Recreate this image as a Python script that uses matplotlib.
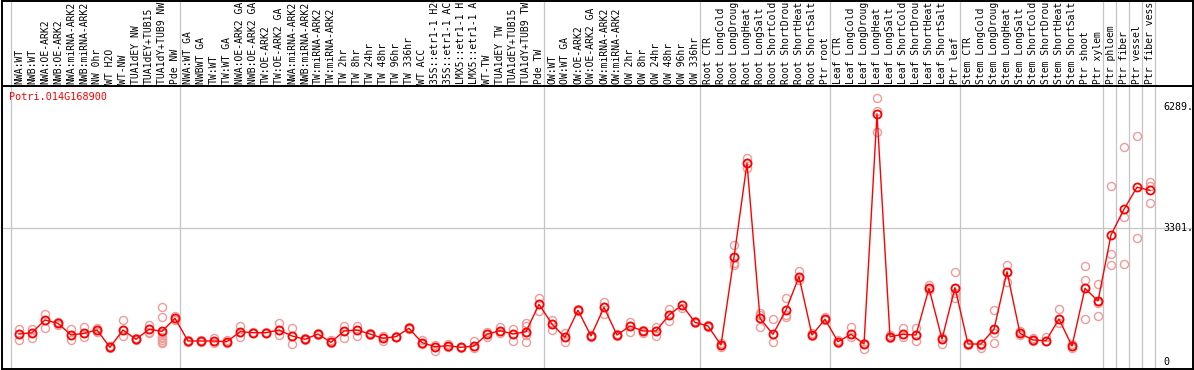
import matplotlib
matplotlib.use("Agg")
import matplotlib.pyplot as plt

gene_id = "Potri.014G168900"

labels = [
    "NWA:WT", "NWB:WT", "NWA:OE-ARK2", "NWB:OE-ARK2", "NWA:miRNA-ARK2", "NWB:miRNA-ARK2",
    "NW 0hr", "WT H2O", "WT-NW", "TUA1dEY NW", "TUA1dEY+TUB15", "TUA1dY+TUB9 NW", "Pde NW",
    "NWA:WT GA", "NWBWT GA", "TW:WT", "TW:WT GA", "NWA:OE-ARK2 GA", "NWB:OE-ARK2 GA",
    "TW:OE-ARK2", "TW:OE-ARK2 GA", "NWA:miRNA-ARK2", "NWB:miRNA-ARK2", "TW:miRNA-ARK2",
    "TW:miRNA-ARK2", "TW 2hr", "TW 8hr", "TW 24hr", "TW 48hr", "TW 96hr", "TW 336hr",
    "WT ACC", "35S::etr1-1 H2O", "35S::etr1-1 ACC", "LMX5::etr1-1 H2O", "LMX5::etr1-1 ACC",
    "WT-TW", "TUA1dEY TW", "TUA1dEY+TUB15", "TUA1dY+TUB9 TW", "Pde TW",
    "OW:WT", "OW:WT GA", "OW:OE-ARK2", "OW:OE-ARK2 GA", "OW:miRNA-ARK2", "OW:miRNA-ARK2",
    "OW 2hr", "OW 8hr", "OW 24hr", "OW 48hr", "OW 96hr", "OW 336hr",
    "Root CTR", "Root LongCold", "Root LongDrought", "Root LongHeat", "Root LongSalt",
    "Root ShortCold", "Root ShortDrought", "Root ShortHeat", "Root ShortSalt", "Ptr root",
    "Leaf CTR", "Leaf LongCold", "Leaf LongDrought", "Leaf LongHeat", "Leaf LongSalt",
    "Leaf ShortCold", "Leaf ShortDrought", "Leaf ShortHeat", "Leaf ShortSalt", "Ptr leaf",
    "Stem CTR", "Stem LongCold", "Stem LongDrought", "Stem LongHeat", "Stem LongSalt",
    "Stem ShortCold", "Stem ShortDrought", "Stem ShortHeat", "Stem ShortSalt",
    "Ptr shoot", "Ptr xylem", "Ptr phloem", "Ptr fiber", "Ptr vessel", "Ptr fiber vessel",
]

means = [
    684, 716, 1030, 948, 659, 701, 783, 355, 783, 553, 800, 750, 1071,
    511, 511, 511, 494, 741, 716, 716, 783, 635, 553, 684, 478, 758, 783, 684, 578, 618, 825,
    470, 371, 395, 355, 387, 676, 766, 684, 741, 1416,
    930, 602, 1270, 635, 1342, 659, 881, 758, 758, 1153, 1400, 972,
    881, 412, 2578, 4899, 1071, 676, 1277, 2099, 659, 1047,
    494, 676, 437, 6122, 617, 676, 659, 1812, 560, 1828,
    437, 437, 800, 2222, 700, 536, 519, 1054, 388,
    1812, 1499, 3128, 3765, 4308, 4231,
]

replicates = [
    [800, 684, 536], [816, 717, 593], [1178, 1030, 840], [980, 948, 906],
    [799, 659, 536], [849, 700, 618], [840, 783, 742], [388, 355, 330],
    [1030, 783, 635], [577, 553, 536], [906, 799, 742, 700],
    [1359, 1096, 700, 618, 577, 536, 495, 454], [1128, 1071, 1030],
    [536, 511, 495], [536, 511, 487], [577, 511, 454], [536, 495, 454],
    [890, 742, 618], [742, 717, 700], [742, 717, 700], [947, 783, 659],
    [824, 635, 429], [577, 552, 536], [717, 684, 659], [536, 478, 454],
    [882, 758, 577], [890, 783, 643], [717, 684, 659], [635, 577, 511],
    [643, 618, 602], [865, 825, 799], [536, 470, 437], [412, 371, 273],
    [429, 396, 371], [371, 355, 330], [519, 388, 330], [742, 676, 618],
    [849, 766, 717], [807, 684, 511], [947, 882, 742, 659, 495],
    [1565, 1416, 1260], [1030, 931, 783], [717, 602, 495], [1301, 1270, 1260],
    [659, 635, 618], [1482, 1342, 1178], [684, 659, 635], [989, 882, 742],
    [783, 758, 700], [865, 758, 635], [1301, 1153, 1013], [1400, 1318],
    [1013, 972, 947], [906, 882, 849], [454, 412, 371],
    [2881, 2578, 2444, 2388], [5022, 4899, 4775], [1211, 1153, 865],
    [1046, 676, 495], [1565, 1153, 1096], [2240, 2099, 2017], [700, 659, 635],
    [1112, 1046, 1030], [536, 495, 454], [849, 676, 618], [454, 437, 305],
    [6504, 6198, 5664], [659, 617, 580], [825, 676, 617], [825, 659, 511],
    [1894, 1812, 1770], [617, 560, 429], [2207, 1828, 1688, 1565],
    [470, 437, 420], [437, 420, 330], [1277, 800, 700, 453], [2388, 2222, 1975],
    [750, 700, 650], [580, 536, 500], [620, 519, 500], [1293, 1054, 948],
    [437, 388, 330], [2363, 2017, 1812, 1054], [1919, 1499, 1441, 1128],
    [4338, 2659, 2388], [5294, 3580, 2420], [5573, 3043], [4444, 4338, 3911],
]

group_ends = [-1, 12, 40, 52, 62, 72, 83, 84, 85, 86, 87]
ytick_values = [6289, 3301, 0]
ytick_labels = ["6289.", "3301.", "0"]

W, H = 1194, 370
fig = plt.figure(figsize=(W / 100, H / 100), dpi=100)
fig.patch.set_facecolor("white")

x0, x1 = 1.5, 1192.5
ytop_plot = 86
ybot_plot = 369

ax = fig.add_axes([x0 / W, (H - ybot_plot) / H, (x1 - x0) / W, (ybot_plot - ytop_plot) / H])
axh = fig.add_axes([x0 / W, (H - ytop_plot) / H, (x1 - x0) / W, (ytop_plot - 0.5) / H])

px_per_col = 13.0
first_px = 19.0
xl = ((x0 - first_px) / px_per_col, (x1 - first_px) / px_per_col)

ppu = 0.0405
zero_px = 361.7
yl = ((zero_px - ybot_plot) / ppu, (zero_px - ytop_plot) / ppu)

for a in (ax, axh):
    a.set_xlim(*xl)
    a.set_xticks([])
    a.set_yticks([])
    for s in a.spines.values():
        s.set_linewidth(1.4)
        s.set_color("black")
    for g in group_ends:
        a.axvline(g + 0.42, color="#c4c4c4", lw=0.9, zorder=0)

ax.set_ylim(*yl)
axh.set_ylim(0, 1)

ax.axhline(3301, color="#c4c4c4", lw=0.9, zorder=0)

xs = list(range(len(labels)))
for i, reps in enumerate(replicates):
    ax.plot([i] * len(reps), reps, linestyle="none", marker="o", markersize=5.8,
            markerfacecolor="none", markeredgecolor="#f09a9a", markeredgewidth=1.0, zorder=2)

ax.plot(xs, means, color="#ff0000", lw=1.0, zorder=3)
ax.plot(xs, means, linestyle="none", marker="o", markersize=5.8,
        markerfacecolor="none", markeredgecolor="#ff0000", markeredgewidth=1.3, zorder=4)

mono = "DejaVu Sans Mono"
for i, lab in enumerate(labels):
    axh.text(i, 0.025, lab, rotation=90, ha="center", va="bottom", fontsize=7,
             family=mono, color="black", clip_on=False)

ax.text(-0.77, 6540, gene_id, ha="left", va="center", fontsize=7.3, family=mono, color="#ff0000")

for v, t in zip(ytick_values, ytick_labels):
    ax.text(88.0, v, t, ha="left", va="center", fontsize=7.2, family=mono, color="black")

fig.savefig("out.png", dpi=100)
